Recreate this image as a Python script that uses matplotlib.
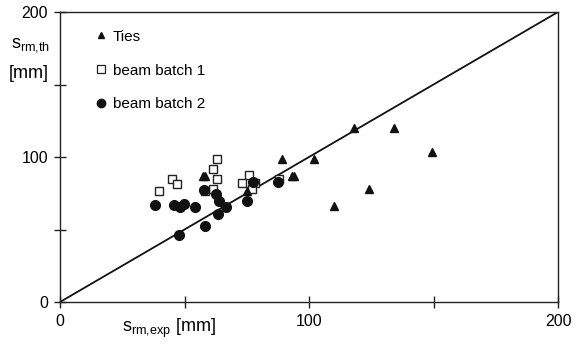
import matplotlib.pyplot as plt
from matplotlib.lines import Line2D

plt.rcParams['font.family'] = ['Liberation Sans', 'DejaVu Sans']
plt.rcParams['mathtext.fontset'] = 'custom'
plt.rcParams['mathtext.rm'] = 'Liberation Sans'

# measured vs. theoretical mean crack spacing [mm]
ties_exp = [57.3, 58.1, 89.0, 102.0, 93.0, 94.0, 118.1, 134.1, 149.3, 124.0, 110.0, 75.2]
ties_th = [87.1, 87.1, 98.6, 98.6, 87.1, 87.1, 119.8, 119.8, 103.2, 77.9, 66.0, 76.6]

batch1_exp = [39.8, 45.1, 47.1, 63.1, 61.3, 63.1, 61.4, 58.2, 76.0, 73.0, 78.3, 77.2, 88.1]
batch1_th = [76.3, 84.6, 81.6, 98.4, 91.5, 84.6, 77.7, 76.3, 87.4, 81.8, 81.8, 77.7, 84.8]

batch2_exp = [38.2, 45.8, 48.2, 49.9, 54.2, 57.8, 62.5, 64.0, 66.7, 63.3, 58.2, 47.9, 75.0, 77.6, 87.4]
batch2_th = [66.7, 66.7, 65.7, 67.6, 65.7, 77.0, 74.7, 69.7, 65.7, 60.9, 52.6, 46.4, 69.7, 82.5, 82.5]

ticks = [0, 50, 100, 150, 200]
tick_labels = ['0', '', '100', '', '200']

fig = plt.figure(figsize=(5.78, 3.45), dpi=100)
ax = fig.add_axes([60 / 578, 43 / 345, 498 / 578, 290 / 345])

# line of equality
ax.plot([0, 200], [0, 200], color='#111111', lw=1.3, zorder=1)

ax.plot(ties_exp, ties_th, ls='none', marker='^', ms=5.5, color='#111111', zorder=3)
ax.plot(batch1_exp, batch1_th, ls='none', marker='s', ms=6, mfc='white', mec='#222222', mew=1.0, zorder=2)
ax.plot(batch2_exp, batch2_th, ls='none', marker='o', ms=7, color='#111111', zorder=4)

ax.set_xlim(0, 200)
ax.set_ylim(0, 200)
ax.set_xticks(ticks)
ax.set_xticklabels(tick_labels)
ax.set_yticks(ticks)
ax.set_yticklabels(tick_labels)
ax.tick_params(direction='inout', length=9, width=1, labelsize=11.5, pad=4, color='#222222')
for sp in ax.spines.values():
    sp.set_color('#222222')
    sp.set_linewidth(1)

# legend
handles = [
    Line2D([], [], ls='none', marker='^', ms=4.5, color='#111111'),
    Line2D([], [], ls='none', marker='s', ms=5.5, mfc='white', mec='#222222', mew=0.9),
    Line2D([], [], ls='none', marker='o', ms=6, color='#111111'),
]
ax.legend(handles, ['Ties', 'beam batch 1', 'beam batch 2'], loc='upper left',
          bbox_to_anchor=(0.06, 0.96), frameon=False, fontsize=11,
          handlelength=0.6, handletextpad=0.5, labelspacing=1.3, borderaxespad=0)

# axis titles
fig.text(11 / 578, 1 - 47 / 345, r'$\mathregular{s_{rm{,}th}}$', fontsize=13, ha='left', va='baseline')
fig.text(9 / 578, 1 - 73 / 345, '[mm]', fontsize=13, ha='left', va='center')
fig.text(122 / 578, 1 - 328 / 345, r'$\mathregular{s_{rm{,}exp}}$ [mm]', fontsize=13, ha='left', va='center')

fig.savefig('out.png', dpi=100)
